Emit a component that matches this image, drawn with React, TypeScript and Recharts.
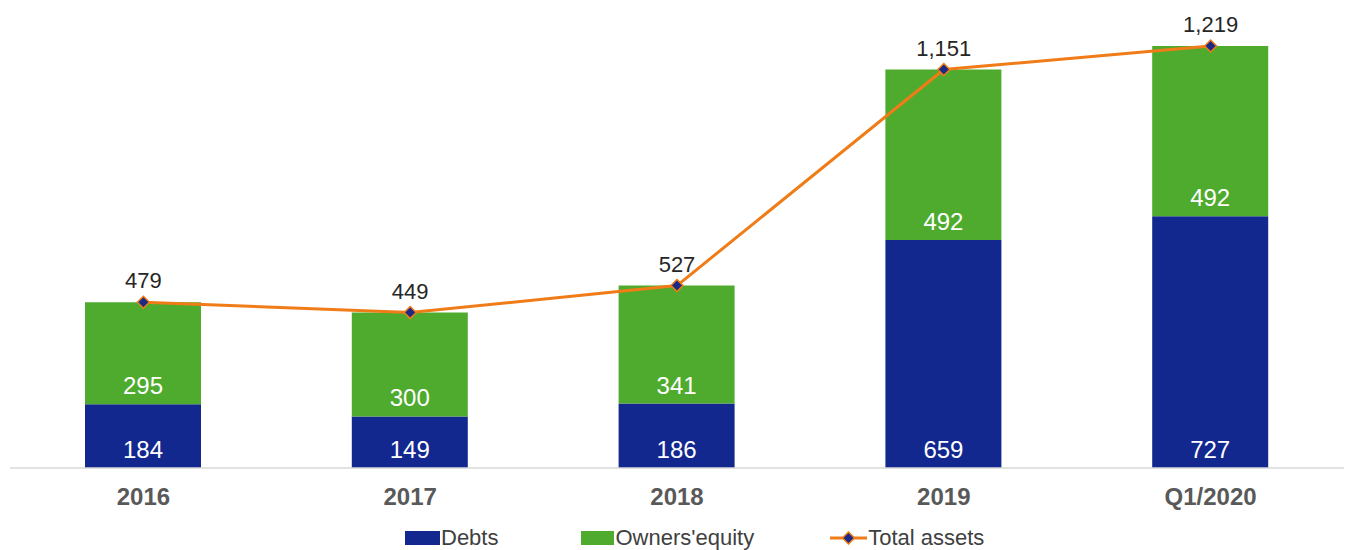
import { ComposedChart, Bar, Line, XAxis, YAxis, Legend, LabelList } from "recharts";

const categories = ["2016", "2017", "2018", "2019", "Q1/2020"];
const debts = [184, 149, 186, 659, 727];
const equity = [295, 300, 341, 492, 492];
const totalAssets = [479, 449, 527, 1151, 1219];

const NAVY = "#13288f";
const GREEN = "#4eab2e";
const ORANGE = "#f07c17";
const FONT = "'Liberation Sans', Arial, sans-serif";

const data = categories.map((c, i) => ({
  name: c,
  debts: debts[i],
  equity: equity[i],
  total: totalAssets[i],
}));

function Diamond(props: any) {
  const { cx, cy } = props;
  if (cx == null || cy == null) return null;
  const r = 6;
  return (
    <polygon
      points={`${cx},${cy - r} ${cx + r},${cy} ${cx},${cy + r} ${cx - r},${cy}`}
      fill="#1c2a86"
      stroke={ORANGE}
      strokeWidth={1.5}
    />
  );
}

function LegendContent() {
  const text = { fontSize: 22, color: "#404040", fontFamily: FONT };
  return (
    <div style={{ height: 25, display: "flex", alignItems: "center", justifyContent: "flex-start", paddingLeft: 395 }}>
      <span style={{ display: "inline-block", width: 35, height: 14, background: NAVY }} />
      <span style={{ ...text, marginLeft: 1 }}>Debts</span>
      <span style={{ display: "inline-block", width: 33, height: 14, background: GREEN, marginLeft: 83 }} />
      <span style={{ ...text, marginLeft: 1 }}>Owners'equity</span>
      <svg width={37} height={14} style={{ marginLeft: 76 }}>
        <line x1={0} y1={7} x2={37} y2={7} stroke={ORANGE} strokeWidth={3} />
        <polygon points="18.5,1 24.5,7 18.5,13 12.5,7" fill="#1c2a86" stroke={ORANGE} strokeWidth={1.5} />
      </svg>
      <span style={{ ...text, marginLeft: 1 }}>Total assets</span>
    </div>
  );
}

export default function App() {
  return (
    <div style={{ position: "absolute", left: 0, top: 0, width: 1346, height: 550, background: "#fff" }}>
      <ComposedChart
        width={1346}
        height={550}
        data={data}
        margin={{ top: 18, right: 2, left: 10, bottom: 0 }}
        barCategoryGap={0}
      >
        <XAxis
          dataKey="name"
          axisLine={{ stroke: "#d9d9d9", strokeWidth: 1.5 }}
          tickLine={false}
          height={57}
          tickMargin={14}
          tick={{ fontSize: 24, fontWeight: 700, fill: "#595959", fontFamily: FONT }}
        />
        <YAxis hide domain={[0, 1300]} />
        <Legend verticalAlign="bottom" content={<LegendContent />} />
        <Bar dataKey="debts" stackId="a" fill={NAVY} barSize={116} isAnimationActive={false}>
          <LabelList dataKey="debts" position="insideBottom" offset={10} fill="#fff" fontSize={24} fontFamily={FONT} />
        </Bar>
        <Bar dataKey="equity" stackId="a" fill={GREEN} barSize={116} isAnimationActive={false}>
          <LabelList dataKey="equity" position="insideBottom" offset={10} fill="#fff" fontSize={24} fontFamily={FONT} />
        </Bar>
        <Line
          dataKey="total"
          stroke={ORANGE}
          strokeWidth={3}
          dot={<Diamond />}
          activeDot={false}
          isAnimationActive={false}
        >
          <LabelList
            dataKey="total"
            position="top"
            offset={14}
            fill="#262626"
            fontSize={22}
            fontFamily={FONT}
            formatter={(v: any) => Number(v).toLocaleString("en-US")}
          />
        </Line>
      </ComposedChart>
    </div>
  );
}
